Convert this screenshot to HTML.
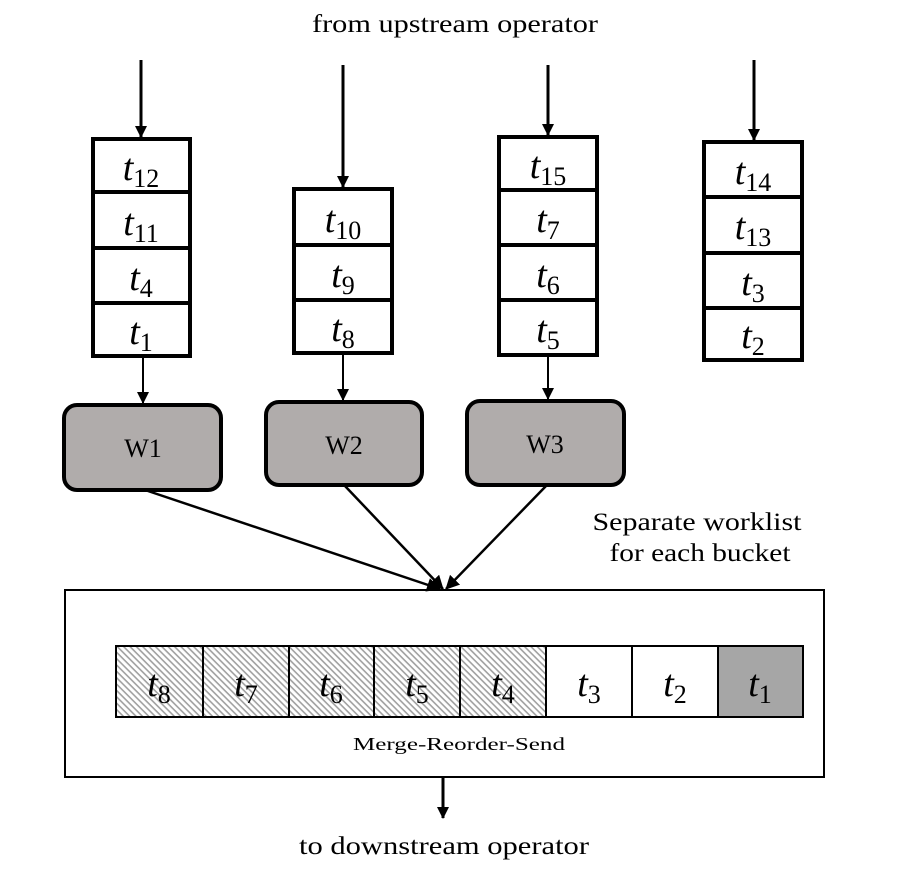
<!DOCTYPE html>
<html><head><meta charset="utf-8"><style>html,body{margin:0;padding:0;background:#fff}svg{display:block}</style></head>
<body>
<svg width="904" height="881" viewBox="0 0 904 881" xmlns="http://www.w3.org/2000/svg" font-family="Liberation Serif, serif">
<defs>
<marker id="ah" markerWidth="12" markerHeight="12" refX="11" refY="6" orient="auto" markerUnits="userSpaceOnUse" viewBox="0 0 12 12"><path d="M0,0 L12,6 L0,12 z" fill="#000"/></marker>
<marker id="ah2" markerWidth="14" markerHeight="14" refX="13" refY="7" orient="auto" markerUnits="userSpaceOnUse" viewBox="0 0 14 14"><path d="M0,0 L14,7 L0,14 z" fill="#000"/></marker>
<pattern id="hatch" width="4.5" height="4.5" patternUnits="userSpaceOnUse" patternTransform="rotate(45)">
<rect width="4.5" height="4.5" fill="#fff"/><rect width="4.5" height="1.6" fill="#a0a0a0"/></pattern>
</defs>

<text x="455" y="32" font-size="25" text-anchor="middle" textLength="286" lengthAdjust="spacingAndGlyphs">from upstream operator</text>

<g stroke="#000" stroke-width="3">
<line x1="141" y1="60" x2="141" y2="137" marker-end="url(#ah)"/>
<line x1="343" y1="65" x2="343" y2="187" marker-end="url(#ah)"/>
<line x1="548" y1="65" x2="548" y2="135" marker-end="url(#ah)"/>
<line x1="754" y1="60" x2="754" y2="140" marker-end="url(#ah)"/>
<line x1="143" y1="357" x2="143" y2="403" stroke-width="2" marker-end="url(#ah)"/>
<line x1="343" y1="353" x2="343" y2="400" stroke-width="2" marker-end="url(#ah)"/>
<line x1="548" y1="355" x2="548" y2="399" stroke-width="2" marker-end="url(#ah)"/>
</g>

<g fill="#fff" stroke="#000" stroke-width="4">
<rect x="93" y="139" width="97" height="217"/>
<line x1="93" y1="192" x2="190" y2="192"/><line x1="93" y1="248" x2="190" y2="248"/><line x1="93" y1="303" x2="190" y2="303"/>
<rect x="294" y="189" width="98" height="164"/>
<line x1="294" y1="245" x2="392" y2="245"/><line x1="294" y1="300" x2="392" y2="300"/>
<rect x="499" y="137" width="98" height="218"/>
<line x1="499" y1="190" x2="597" y2="190"/><line x1="499" y1="245" x2="597" y2="245"/><line x1="499" y1="300" x2="597" y2="300"/>
<rect x="704" y="142" width="98" height="218"/>
<line x1="704" y1="197" x2="802" y2="197"/><line x1="704" y1="253" x2="802" y2="253"/><line x1="704" y1="308" x2="802" y2="308"/>
</g>

<g font-size="38" text-anchor="middle">
<text x="141" y="180"><tspan font-style="italic">t</tspan><tspan font-size="26" dy="7">12</tspan></text>
<text x="141" y="235"><tspan font-style="italic">t</tspan><tspan font-size="26" dy="7">11</tspan></text>
<text x="141" y="290"><tspan font-style="italic">t</tspan><tspan font-size="26" dy="7">4</tspan></text>
<text x="141" y="344"><tspan font-style="italic">t</tspan><tspan font-size="26" dy="7">1</tspan></text>

<text x="343" y="232"><tspan font-style="italic">t</tspan><tspan font-size="26" dy="7">10</tspan></text>
<text x="343" y="287"><tspan font-style="italic">t</tspan><tspan font-size="26" dy="7">9</tspan></text>
<text x="343" y="341"><tspan font-style="italic">t</tspan><tspan font-size="26" dy="7">8</tspan></text>

<text x="548" y="178"><tspan font-style="italic">t</tspan><tspan font-size="26" dy="7">15</tspan></text>
<text x="548" y="232"><tspan font-style="italic">t</tspan><tspan font-size="26" dy="7">7</tspan></text>
<text x="548" y="287"><tspan font-style="italic">t</tspan><tspan font-size="26" dy="7">6</tspan></text>
<text x="548" y="342"><tspan font-style="italic">t</tspan><tspan font-size="26" dy="7">5</tspan></text>

<text x="753" y="184"><tspan font-style="italic">t</tspan><tspan font-size="26" dy="7">14</tspan></text>
<text x="753" y="239"><tspan font-style="italic">t</tspan><tspan font-size="26" dy="7">13</tspan></text>
<text x="753" y="295"><tspan font-style="italic">t</tspan><tspan font-size="26" dy="7">3</tspan></text>
<text x="753" y="348"><tspan font-style="italic">t</tspan><tspan font-size="26" dy="7">2</tspan></text>
</g>

<g fill="#b0acab" stroke="#000" stroke-width="4">
<rect x="64" y="405" width="157" height="85" rx="13"/>
<rect x="266" y="402" width="156" height="83" rx="13"/>
<rect x="467" y="401" width="157" height="84" rx="13"/>
</g>
<g font-size="26" text-anchor="middle">
<text x="143" y="457">W1</text>
<text x="344" y="454">W2</text>
<text x="545" y="453">W3</text>
</g>

<g stroke="#000" stroke-width="2.5">
<line x1="145" y1="490" x2="440" y2="589" marker-end="url(#ah2)"/>
<line x1="345" y1="486" x2="443" y2="589" marker-end="url(#ah2)"/>
<line x1="546" y1="486" x2="446" y2="589" marker-end="url(#ah2)"/>
</g>

<text x="697" y="530" font-size="25" text-anchor="middle" textLength="209" lengthAdjust="spacingAndGlyphs">Separate worklist</text>
<text x="700" y="561" font-size="25" text-anchor="middle" textLength="181" lengthAdjust="spacingAndGlyphs">for each bucket</text>

<rect x="65" y="590" width="759" height="187" fill="none" stroke="#000" stroke-width="2"/>

<g stroke="#000" stroke-width="2">
<rect x="116" y="646" width="430" height="71" fill="url(#hatch)"/>
<rect x="546" y="646" width="172" height="71" fill="#fff"/>
<rect x="718" y="646" width="85" height="71" fill="#a6a6a6"/>
<line x1="203" y1="646" x2="203" y2="717"/><line x1="289" y1="646" x2="289" y2="717"/>
<line x1="374" y1="646" x2="374" y2="717"/><line x1="460" y1="646" x2="460" y2="717"/>
<line x1="632" y1="646" x2="632" y2="717"/>
</g>
<g font-size="38" text-anchor="middle">
<text x="159" y="696"><tspan font-style="italic">t</tspan><tspan font-size="26" dy="7">8</tspan></text>
<text x="246" y="696"><tspan font-style="italic">t</tspan><tspan font-size="26" dy="7">7</tspan></text>
<text x="331" y="696"><tspan font-style="italic">t</tspan><tspan font-size="26" dy="7">6</tspan></text>
<text x="417" y="696"><tspan font-style="italic">t</tspan><tspan font-size="26" dy="7">5</tspan></text>
<text x="503" y="696"><tspan font-style="italic">t</tspan><tspan font-size="26" dy="7">4</tspan></text>
<text x="589" y="696"><tspan font-style="italic">t</tspan><tspan font-size="26" dy="7">3</tspan></text>
<text x="675" y="696"><tspan font-style="italic">t</tspan><tspan font-size="26" dy="7">2</tspan></text>
<text x="760" y="696"><tspan font-style="italic">t</tspan><tspan font-size="26" dy="7">1</tspan></text>
</g>

<text x="459" y="750" font-size="18" text-anchor="middle" textLength="212" lengthAdjust="spacingAndGlyphs">Merge-Reorder-Send</text>

<line x1="443" y1="778" x2="443" y2="818" stroke="#000" stroke-width="3" marker-end="url(#ah)"/>
<text x="444" y="854" font-size="25" text-anchor="middle" textLength="290" lengthAdjust="spacingAndGlyphs">to downstream operator</text>
</svg>
</body></html>
